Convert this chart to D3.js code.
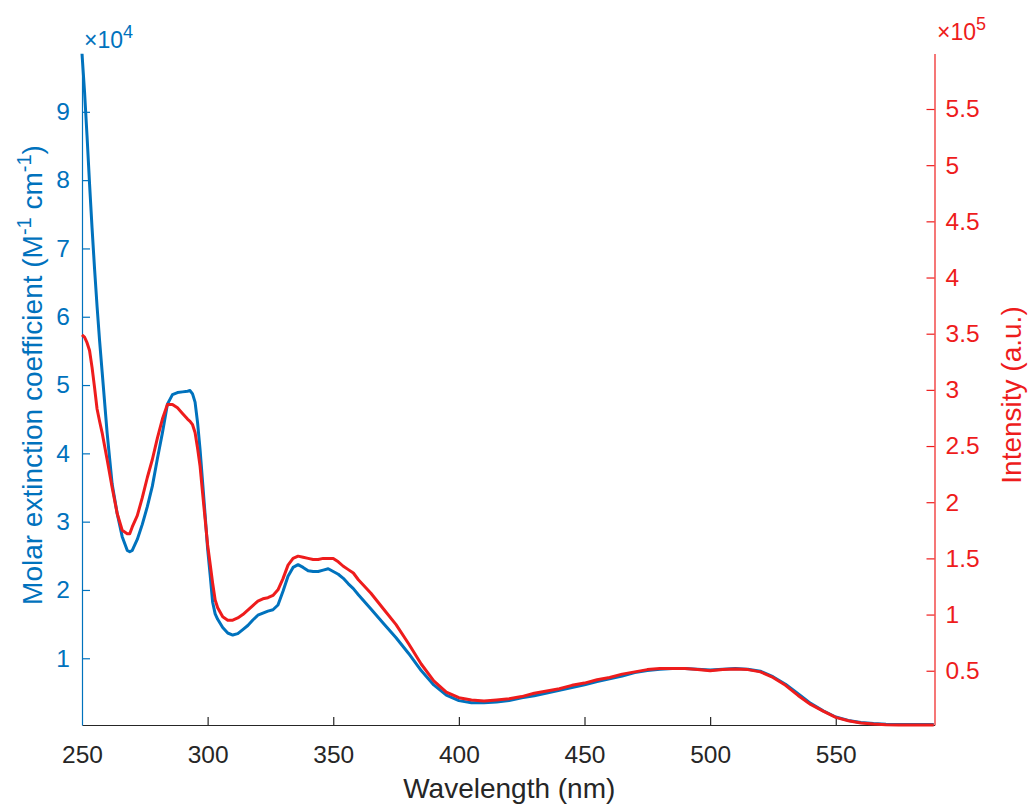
<!DOCTYPE html>
<html>
<head>
<meta charset="utf-8">
<script src="https://cdn.jsdelivr.net/npm/d3@7"></script>
<style>
  html, body { margin: 0; padding: 0; background: #fff; }
  svg { display: block; font-family: "Liberation Sans", Arial, Helvetica, sans-serif; }
</style>
</head>
<body>
<svg id="chart" width="1029" height="809"></svg>
<script>
// ---------- data ----------
const wavelength = [250,251,252,253,254,255,256,257,258,260,262,264,266,268,269,270,272,274,276,278,280,282,284,286,288,290,292,293,294,295,296,297,298,299,300,301,302,303,304,306,308,310,312,314,316,318,320,322,324,326,328,330,332,334,336,338,340,342,344,346,348,350,352,354,356,358,360,365,370,375,380,385,390,395,400,405,410,415,420,425,430,435,440,445,450,455,460,465,470,475,480,485,490,495,500,505,510,515,520,525,530,535,540,545,550,555,560,565,570,575,580,585,589];
// Molar extinction coefficient (x 1e4 M^-1 cm^-1)
const absorbance = [9.85,9.3,8.65,7.95,7.3,6.7,6.15,5.65,5.2,4.3,3.55,3.12,2.78,2.58,2.56,2.58,2.74,2.96,3.22,3.52,3.92,4.3,4.72,4.86,4.89,4.9,4.91,4.92,4.87,4.75,4.45,4.05,3.58,3.1,2.6,2.22,1.82,1.65,1.57,1.45,1.37,1.34,1.36,1.42,1.48,1.56,1.63,1.66,1.69,1.71,1.78,1.98,2.2,2.33,2.37,2.33,2.28,2.27,2.27,2.29,2.31,2.27,2.23,2.17,2.09,2.02,1.93,1.72,1.51,1.3,1.07,0.82,0.61,0.46,0.38,0.35,0.35,0.36,0.38,0.42,0.45,0.49,0.53,0.57,0.61,0.66,0.7,0.74,0.79,0.82,0.84,0.85,0.85,0.84,0.83,0.84,0.85,0.84,0.81,0.73,0.62,0.48,0.34,0.23,0.14,0.09,0.06,0.045,0.035,0.03,0.03,0.03,0.03];
// Emission intensity (x 1e5 a.u.)
const intensity = [3.49,3.47,3.42,3.35,3.2,3.02,2.83,2.72,2.62,2.38,2.13,1.9,1.75,1.72,1.72,1.78,1.88,2.04,2.22,2.38,2.57,2.74,2.87,2.87,2.84,2.79,2.74,2.72,2.69,2.62,2.48,2.32,2.08,1.85,1.62,1.45,1.28,1.13,1.06,0.98,0.95,0.95,0.97,1.0,1.04,1.08,1.12,1.14,1.15,1.17,1.22,1.32,1.44,1.5,1.52,1.51,1.5,1.49,1.49,1.5,1.5,1.5,1.47,1.43,1.4,1.37,1.31,1.19,1.05,0.91,0.74,0.56,0.41,0.31,0.26,0.24,0.23,0.24,0.25,0.27,0.3,0.32,0.34,0.37,0.39,0.42,0.44,0.47,0.49,0.51,0.52,0.52,0.52,0.51,0.5,0.51,0.515,0.51,0.49,0.44,0.37,0.28,0.2,0.14,0.085,0.055,0.035,0.025,0.02,0.018,0.018,0.018,0.018];

const xTicks = [250,300,350,400,450,500,550];
const leftTicks = [1,2,3,4,5,6,7,8,9];
const rightTicks = [0.5,1,1.5,2,2.5,3,3.5,4,4.5,5,5.5];

// ---------- layout ----------
const L = 82, R = 934.5, T = 53.5, B = 725;
const blue = "#0072BD", red = "#ee1c1c", gray = "#262626";
const tickFont = 24.5, labelFont = 28;

const svg = d3.select("#chart");
const x = d3.scaleLinear().domain([250, 589.3]).range([L, R]);
const yL = d3.scaleLinear().domain([0.023, 9.854]).range([B, T]);
const yR = d3.scaleLinear().domain([0.017, 5.994]).range([B, T]);

// bottom axis
const gx = svg.append("g").attr("transform", `translate(0,${B})`)
  .call(d3.axisBottom(x).tickValues(xTicks).tickFormat(d3.format("d"))
    .tickSizeInner(-8).tickSizeOuter(0).tickPadding(21));
gx.select(".domain").attr("stroke", gray).attr("stroke-width", 1.2);
gx.selectAll(".tick line").attr("stroke", gray).attr("stroke-width", 1.2)
  .attr("opacity", d => d === 250 ? 0 : 1);
gx.selectAll(".tick text").attr("fill", gray).style("font-size", tickFont + "px").attr("font-family", null);

// left axis
const gl = svg.append("g").attr("transform", `translate(${L},0)`)
  .call(d3.axisLeft(yL).tickValues(leftTicks).tickFormat(d3.format("d"))
    .tickSizeInner(-8).tickSizeOuter(0).tickPadding(12));
gl.select(".domain").attr("stroke", blue).attr("stroke-width", 1.2);
gl.selectAll(".tick line").attr("stroke", blue).attr("stroke-width", 1.2);
gl.selectAll(".tick text").attr("fill", blue).style("font-size", tickFont + "px").attr("font-family", null);

// right axis
const gr = svg.append("g").attr("transform", `translate(${R},0)`)
  .call(d3.axisRight(yR).tickValues(rightTicks).tickFormat(d3.format("~g"))
    .tickSizeInner(-8).tickSizeOuter(0).tickPadding(11));
gr.select(".domain").attr("stroke", red).attr("stroke-width", 1.2);
gr.selectAll(".tick line").attr("stroke", red).attr("stroke-width", 1.2);
gr.selectAll(".tick text").attr("fill", red).style("font-size", tickFont + "px").attr("font-family", null);

// lines
const lineL = d3.line().x((d, i) => x(wavelength[i])).y(d => yL(d));
const lineR = d3.line().x((d, i) => x(wavelength[i])).y(d => yR(d));
svg.append("path").datum(absorbance).attr("d", lineL)
  .attr("fill", "none").attr("stroke", blue).attr("stroke-width", 3).attr("stroke-linejoin", "round");
svg.append("path").datum(intensity).attr("d", lineR)
  .attr("fill", "none").attr("stroke", red).attr("stroke-width", 3).attr("stroke-linejoin", "round");

// exponent labels
function expLabel(xp, yp, exp, color) {
  const t = svg.append("text").attr("x", xp).attr("y", yp).attr("fill", color)
    .style("font-size", "23px");
  t.append("tspan").text("\u00d710");
  t.append("tspan").attr("dy", "-10").style("font-size", "18px").text(exp);
}
expLabel(84, 48, "4", blue);
expLabel(937, 40, "5", red);

// x label
svg.append("text").attr("x", (L + R) / 2 + 1).attr("y", 798).attr("text-anchor", "middle")
  .attr("fill", gray).style("font-size", labelFont + "px").text("Wavelength (nm)");

// left label
const ll = svg.append("text").attr("transform", "translate(42,375) rotate(-90)")
  .attr("text-anchor", "middle").attr("fill", blue).style("font-size", labelFont + "px");
ll.append("tspan").text("Molar extinction coefficient (M");
ll.append("tspan").attr("dy", "-11").style("font-size", "20px").text("-1");
ll.append("tspan").attr("dy", "11").text(" cm");
ll.append("tspan").attr("dy", "-11").style("font-size", "20px").text("-1");
ll.append("tspan").attr("dy", "11").text(")");

// right label
svg.append("text").attr("transform", "translate(1021,395) rotate(-90)")
  .attr("text-anchor", "middle").attr("fill", red).style("font-size", labelFont + "px")
  .text("Intensity (a.u.)");
</script>
</body>
</html>
